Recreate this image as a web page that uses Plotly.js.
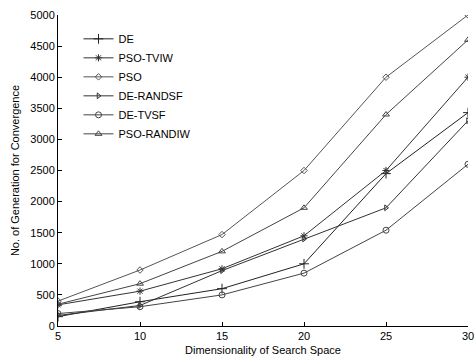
<!DOCTYPE html>
<html>
<head>
<meta charset="utf-8">
<script src="https://cdn.plot.ly/plotly-3.0.1.min.js"></script>
<style>html,body{margin:0;padding:0;background:#fff;}#chart{width:475px;height:362px;}</style>
</head>
<body>
<div id="chart"></div>
<script>
var dims = [5, 10, 15, 20, 25, 30];
var seriesNames = ["DE", "PSO-TVIW", "PSO", "DE-RANDSF", "DE-TVSF", "PSO-RANDIW"];
var DE = [150, 390, 600, 1000, 2450, 3430];
var PSO_TVIW = [340, 560, 920, 1450, 2500, 4000];
var PSO = [400, 900, 1470, 2500, 4000, 5000];
var DE_RANDSF = [170, 330, 890, 1400, 1900, 3300];
var DE_TVSF = [200, 310, 500, 850, 1540, 2600];
var PSO_RANDIW = [350, 680, 1200, 1900, 3400, 4600];
var xTicks = [5, 10, 15, 20, 25, 30];
var yTicks = [0, 500, 1000, 1500, 2000, 2500, 3000, 3500, 4000, 4500, 5000];

var values = [DE, PSO_TVIW, PSO, DE_RANDSF, DE_TVSF, PSO_RANDIW];
var symbols = ["cross-thin-open", "asterisk-open", "diamond-open", "triangle-right-open", "circle-open", "triangle-up-open"];
var sizes = [7, 6, 5, 5, 6, 6];
var colors = ["#222", "#333", "#555", "#333", "#444", "#444"];
var traces = values.map(function(v, i) {
  return {
    x: dims, y: v, name: seriesNames[i], type: "scatter", mode: "lines+markers",
    line: {color: colors[i], width: 1},
    marker: {symbol: symbols[i], size: sizes[i], color: colors[i], line: {color: colors[i], width: 1}}
  };
});
var font = {family: "Liberation Sans, Arial, sans-serif", size: 11, color: "#000"};
var layout = {
  width: 475, height: 362,
  margin: {l: 58, r: 7, t: 15, b: 36},
  paper_bgcolor: "#fff", plot_bgcolor: "#fff",
  font: font,
  showlegend: true,
  legend: {x: 0.05, y: 0.97, xanchor: "left", yanchor: "top", bgcolor: "rgba(0,0,0,0)", borderwidth: 0,
           font: {family: font.family, size: 11, color: "#000"}, itemwidth: 30, tracegroupgap: 0},
  xaxis: {range: [5, 30], tickvals: xTicks, ticks: "inside", ticklen: 4, tickcolor: "#000",
          showgrid: false, zeroline: false, showline: true, linecolor: "#000", linewidth: 1,
          tickfont: font, title: {text: "Dimensionality of Search Space", font: font, standoff: 5}},
  yaxis: {range: [0, 5000], tickvals: yTicks, ticks: "inside", ticklen: 4, tickcolor: "#000",
          showgrid: false, zeroline: false, showline: true, linecolor: "#000", linewidth: 1,
          tickfont: font, title: {text: "No. of Generation for Convergence", font: font, standoff: 8}}
};
Plotly.newPlot("chart", traces, layout, {displayModeBar: false, staticPlot: true});
</script>
</body>
</html>
